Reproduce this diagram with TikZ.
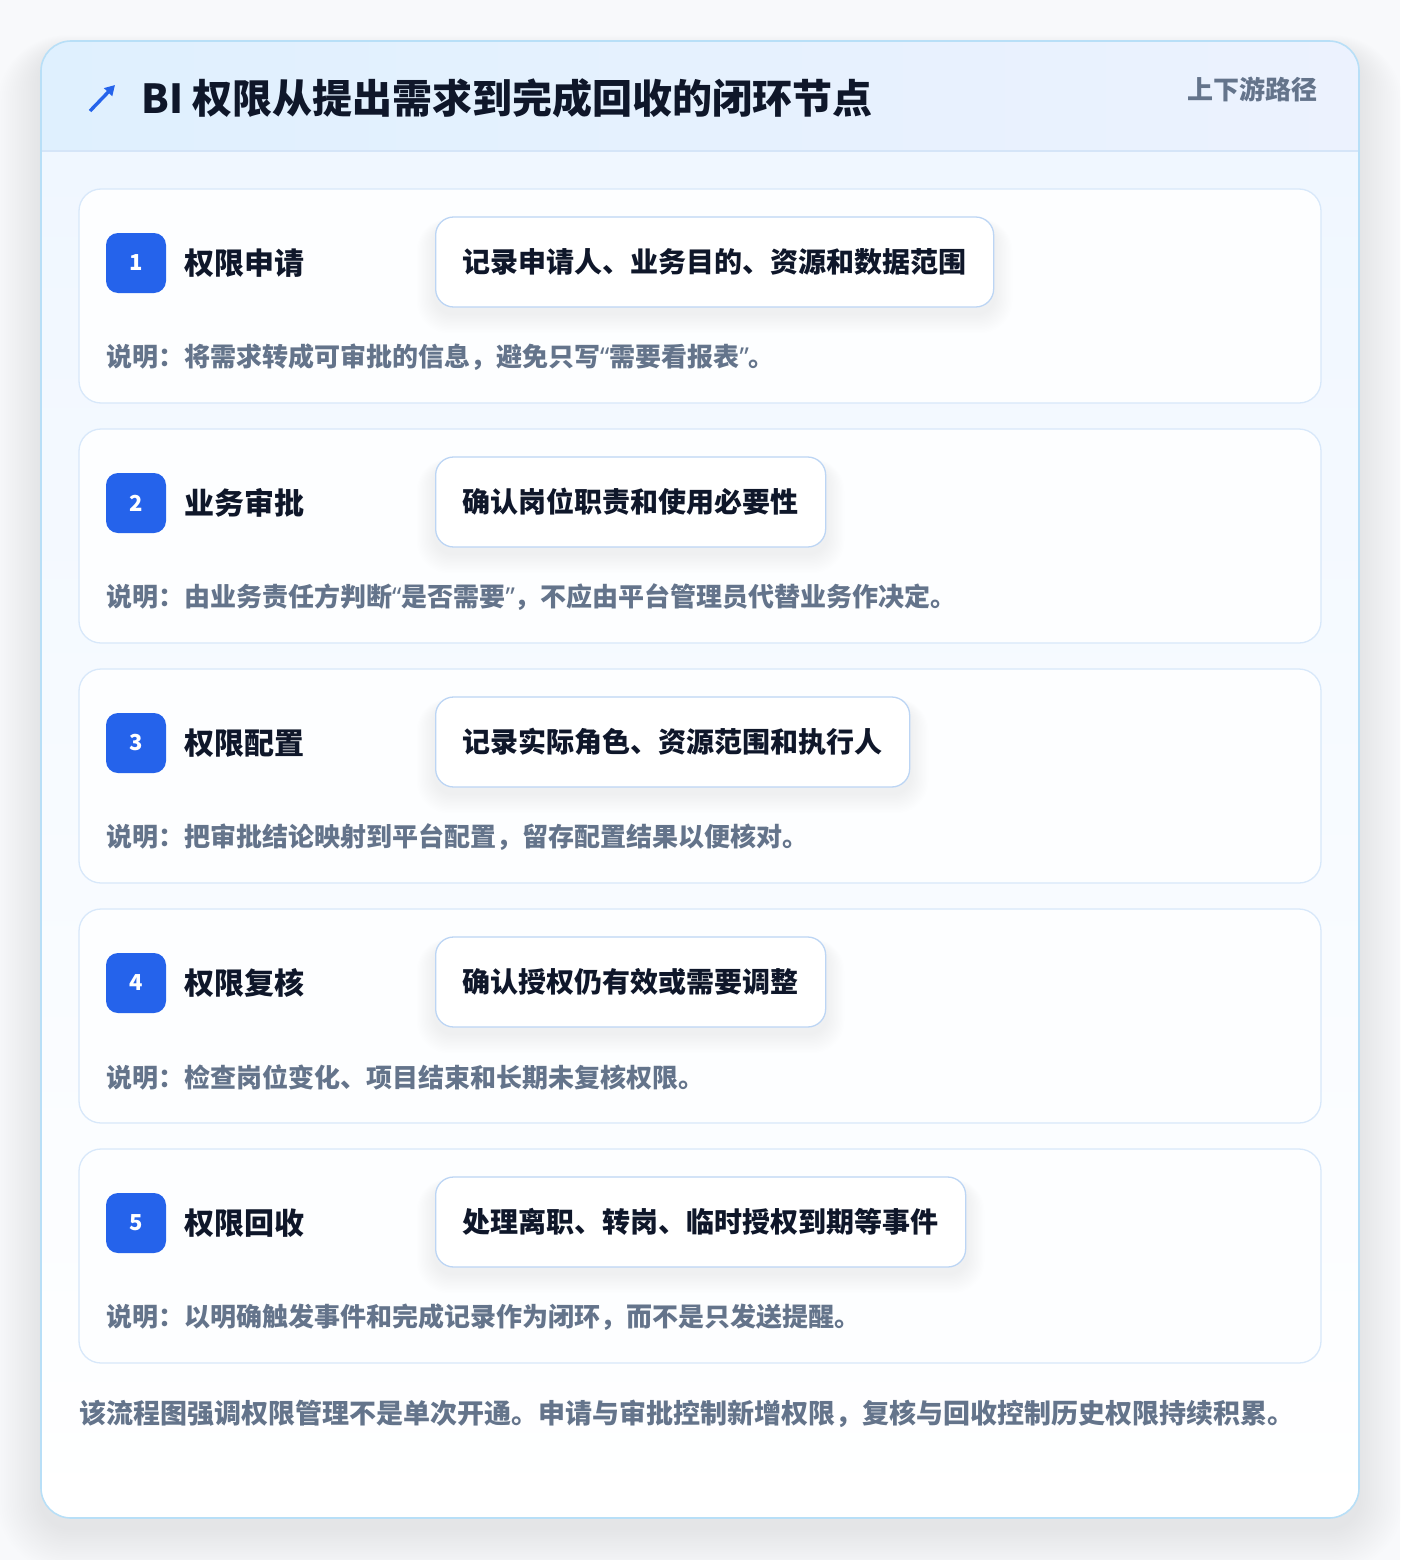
\documentclass[tikz,border=0pt]{standalone}
\usepackage{fontspec}
\setmainfont{Noto Sans CJK SC}
\newfontfamily\latinq{Noto Sans}
\usetikzlibrary{arrows.meta}
\definecolor{pagebg}{HTML}{F8F9FB}
\definecolor{framec}{HTML}{B8DFF7}
\definecolor{headL}{HTML}{DFF0FE}
\definecolor{headR}{HTML}{ECF2FE}
\definecolor{headline}{HTML}{D5E5F8}
\definecolor{bodytop}{HTML}{F0F7FF}
\definecolor{cardborder}{HTML}{D8E8FA}
\definecolor{cardfill}{HTML}{FDFEFF}
\definecolor{tagborder}{HTML}{BCD5F4}
\definecolor{accent}{HTML}{2563EB}
\definecolor{ink}{HTML}{0F172A}
\definecolor{muted}{HTML}{64748B}
\newcommand{\myquote}[1]{{\latinq\bfseries #1}}
\pgfdeclarelayer{back}
\pgfdeclarelayer{shade}
\pgfsetlayers{back,shade,main}
\tikzset{
  card/.style={draw=cardborder, line width=1.3pt, fill=cardfill, rounded corners=22pt,
    minimum width=1242pt, minimum height=214pt, inner sep=0pt},
  badge/.style={fill=accent, rounded corners=12pt, minimum size=60pt, inner sep=0pt,
    text=white, font=\fontsize{22pt}{26pt}\selectfont\bfseries},
  ttl/.style={anchor=west, inner sep=0pt, text=ink, font=\fontsize{30pt}{36pt}\selectfont\bfseries},
  tagbox/.style={anchor=west, draw=tagborder, line width=1.3pt, fill=white, rounded corners=18pt,
    minimum height=90pt, inner xsep=27pt, inner ysep=0pt, text=ink,
    font=\fontsize{28pt}{34pt}\selectfont\bfseries},
  desc/.style={anchor=west, inner sep=0pt, text=muted, font=\fontsize{26pt}{32pt}\selectfont\bfseries},
  softshadow/.style={fill=black, opacity=0.0045},
}
\begin{document}
\begin{tikzpicture}[x=1pt,y=-1pt]
\useasboundingbox (0,0) rectangle (1400,1560);
\begin{pgfonlayer}{back}
\fill[pagebg] (0,0) rectangle (1400,1560);
% frame shadow
\foreach \s in {1,...,20}
  \fill[softshadow, rounded corners=30pt+\s*2pt] (41-\s*2.2,41-\s*0.8+10) rectangle (1359+\s*2.2,1518+\s*2.2+10);
\fill[white, rounded corners=30pt] (41,41) rectangle (1359,1518);
\begin{scope}
  \clip[rounded corners=30pt] (41,41) rectangle (1359,1518);
  \shade[top color=bodytop, bottom color=white] (41,151) rectangle (1359,1518);
  \shade[left color=headL, right color=headR] (41,41) rectangle (1359,151);
  \draw[headline, line width=1.2pt] (41,151) -- (1359,151);
\end{scope}
\draw[framec, line width=1.6pt, rounded corners=30pt] (41,41) rectangle (1359,1518);
\end{pgfonlayer}
% header
\coordinate (iconA) at (90,111);
\coordinate (iconB) at (115,85);
\draw[accent, line width=3.4pt, -{Triangle[length=10pt,width=11pt]}] (iconA) -- (iconB);
\node[anchor=west, inner sep=0pt, text=ink, font=\fontsize{40pt}{48pt}\selectfont\bfseries] (title) at (141,98) {BI 权限从提出需求到完成回收的闭环节点};
\node[anchor=east, inner sep=0pt, text=muted, font=\fontsize{26pt}{32pt}\selectfont\bfseries] (route) at (1318,89) {上下游路径};
% cards
\foreach \t/\g/\d [count=\k] in {
  权限申请/记录申请人、业务目的、资源和数据范围/说明：将需求转成可审批的信息，避免只写\myquote{“}需要看报表\myquote{”}。,
  业务审批/确认岗位职责和使用必要性/说明：由业务责任方判断\myquote{“}是否需要\myquote{”}，不应由平台管理员代替业务作决定。,
  权限配置/记录实际角色、资源范围和执行人/说明：把审批结论映射到平台配置，留存配置结果以便核对。,
  权限复核/确认授权仍有效或需要调整/说明：检查岗位变化、项目结束和长期未复核权限。,
  权限回收/处理离职、转岗、临时授权到期等事件/说明：以明确触发事件和完成记录作为闭环，而不是只发送提醒。}
{
  \pgfmathsetmacro\yc{296+240*(\k-1)}
  \begin{pgfonlayer}{back}
    \node[card] (card\k) at (700,\yc) {};
  \end{pgfonlayer}
  \node[badge] (badge\k) at (136,\yc-33) {\k};
  \node[ttl] (title\k) at (184,\yc-33) {\t};
  \node[tagbox] (tag\k) at (435,\yc-34) {\g};
  \begin{pgfonlayer}{shade}
    \foreach \s in {1,...,14}
      \fill[softshadow, opacity=0.0055, rounded corners=18pt+\s*1pt]
        ([xshift=-\s*1.3pt, yshift=\s*0.4pt-8pt]tag\k.north west) rectangle
        ([xshift=\s*1.3pt, yshift=-\s*1.4pt-6pt]tag\k.south east);
  \end{pgfonlayer}
  \node[desc] (desc\k) at (106,\yc+61) {\d};
}
\node[desc, font=\fontsize{27pt}{32pt}\selectfont\bfseries] (note) at (79,1414) {该流程图强调权限管理不是单次开通。申请与审批控制新增权限，复核与回收控制历史权限持续积累。};
\end{tikzpicture}
\end{document}
